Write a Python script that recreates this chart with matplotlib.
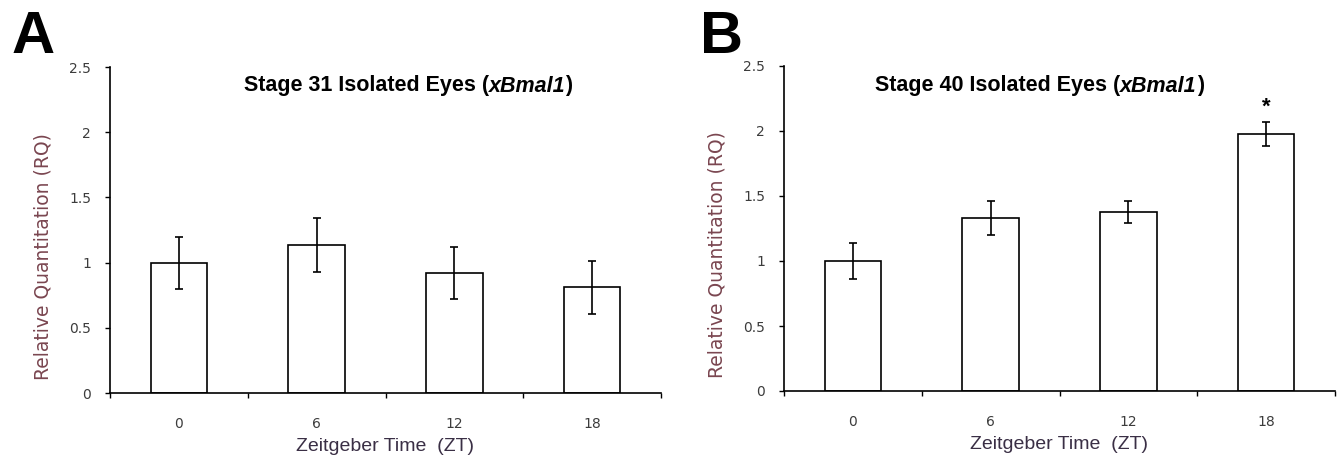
import matplotlib
matplotlib.use("Agg")
import matplotlib.pyplot as plt
import numpy as np

categories = ["0", "6", "12", "18"]
stage31_values = [1.00, 1.135, 0.918, 0.81]
stage31_err = [0.20, 0.205, 0.198, 0.205]
stage40_values = [1.00, 1.333, 1.375, 1.977]
stage40_err = [0.135, 0.132, 0.085, 0.09]
yticks = [0, 0.5, 1, 1.5, 2, 2.5]
ytick_labels = ["0", "0.5", "1", "1.5", "2", "2.5"]
star_y = 2.18

plt.rcParams['font.family'] = ['Liberation Sans', 'DejaVu Sans']

W, H = 1339, 465
fig = plt.figure(figsize=(W / 100, H / 100), dpi=100)

panels = [
    dict(rect=[110 / W, 1 - 393 / H, 551 / W, 326 / H], vals=stage31_values, err=stage31_err,
         stage="31", tx=0.541, letter="A", lx=12 / W),
    dict(rect=[784 / W, 1 - 391 / H, 551 / W, 325 / H], vals=stage40_values, err=stage40_err,
         stage="40", tx=0.464, letter="B", lx=700 / W),
]

label_color = "#7a4650"
xlabel_color = "#3a2f45"
tick_color = "#3c3c3c"

renderer = fig.canvas.get_renderer()

for i, p in enumerate(panels):
    ax = fig.add_axes(p["rect"])
    x = np.arange(len(categories))
    ax.bar(x, p["vals"], width=0.41, color="white", edgecolor="black", linewidth=1.2,
           yerr=p["err"], error_kw=dict(ecolor="black", elinewidth=1.2, capsize=2.6, capthick=1.2))
    ax.set_xlim(-0.5, len(categories) - 0.5)
    ax.set_ylim(0, 2.5)
    ax.set_yticks(yticks)
    ax.set_yticklabels(ytick_labels, family="DejaVu Sans")
    ax.set_xticks(x)
    ax.set_xticklabels(categories, family="DejaVu Sans")
    ax.set_xticks(np.arange(-0.5, len(categories), 1.0), minor=True)
    ax.tick_params(axis="x", which="major", length=0, pad=17, labelsize=10, labelcolor=tick_color)
    ax.tick_params(axis="x", which="minor", length=3.6, width=1.0, direction="out", color="black")
    ax.tick_params(axis="y", length=3.6, width=1.0, direction="out", labelsize=10,
                   color="black", labelcolor=tick_color, pad=10)
    for s in ["top", "right"]:
        ax.spines[s].set_visible(False)
    for s in ["left", "bottom"]:
        ax.spines[s].set_linewidth(1.2)
    ax.set_ylabel("Relative Quantitation (RQ)", fontsize=13.5, family="DejaVu Sans",
                  color=label_color)
    ax.yaxis.set_label_coords(-0.105, 0.42)
    ax.set_xlabel("Zeitgeber Time  (ZT)", fontsize=14, color=xlabel_color, labelpad=5)

    # title composed of upright and italic bold pieces
    parts = [(f"Stage {p['stage']} Isolated Eyes (", "normal"), ("xBmal1", "italic"), (")", "normal")]
    texts, widths = [], []
    for s, st in parts:
        tt = fig.text(0, 0, s, fontsize=15.5, fontweight="bold", style=st, va="center")
        widths.append(tt.get_window_extent(renderer=renderer).width)
        texts.append(tt)
    total = sum(widths)
    cx = (p["rect"][0] + p["rect"][2] * p["tx"]) * W
    cy = 1 - 86 / H
    xs = cx - total / 2
    for tt, w in zip(texts, widths):
        tt.set_position((xs / W, cy))
        xs += w

    fig.text(p["lx"], 1 - 10 / H, p["letter"], fontsize=43, fontweight="bold", va="top", ha="left")
    if i == 1:
        ax.text(3, star_y, "*", ha="center", va="center", fontsize=16, fontweight="bold")

fig.savefig("out.png", dpi=100)
